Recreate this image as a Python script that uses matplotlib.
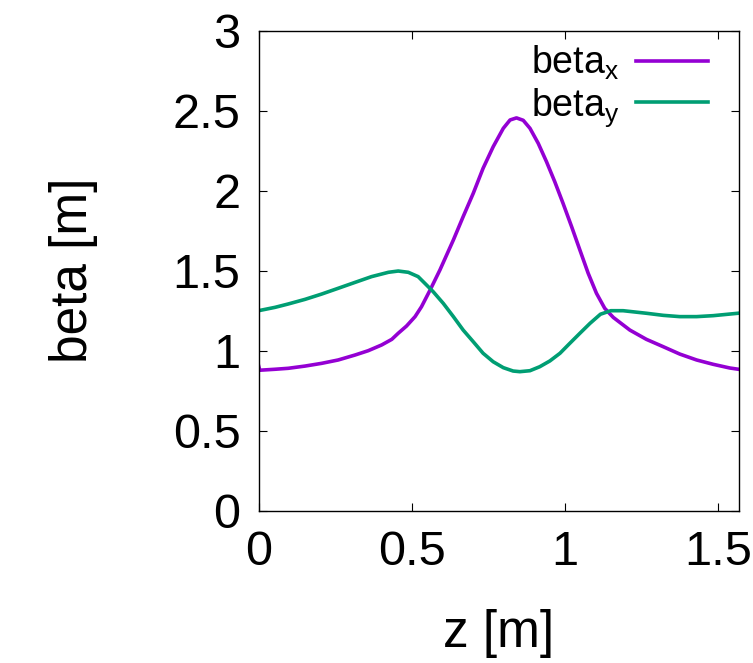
import matplotlib
matplotlib.use("Agg")
import matplotlib.pyplot as plt

plt.rcParams['font.family'] = ['Liberation Sans', 'DejaVu Sans']
plt.rcParams['mathtext.default'] = 'regular'

# beta functions
z_x = [0.0, 0.004, 0.054, 0.097, 0.152, 0.206, 0.26, 0.315, 0.358, 0.402,
       0.435, 0.456, 0.483, 0.511, 0.532, 0.56, 0.592, 0.636, 0.668, 0.701,
       0.733, 0.766, 0.799, 0.821, 0.842, 0.864, 0.886, 0.913, 0.94, 0.967,
       0.994, 1.022, 1.049, 1.076, 1.103, 1.13, 1.158, 1.212, 1.266, 1.321,
       1.375, 1.43, 1.484, 1.538, 1.57]
beta_x = [0.908, 0.878, 0.884, 0.890, 0.904, 0.921, 0.942, 0.973, 1.0, 1.036,
          1.071, 1.109, 1.154, 1.213, 1.275, 1.379, 1.504, 1.692, 1.838, 1.984,
          2.14, 2.275, 2.39, 2.442, 2.455, 2.44, 2.39, 2.296, 2.181, 2.056,
          1.921, 1.775, 1.629, 1.484, 1.359, 1.265, 1.208, 1.129, 1.071, 1.025,
          0.979, 0.942, 0.915, 0.892, 0.883]

z_y = [0.0, 0.054, 0.097, 0.152, 0.206, 0.26, 0.315, 0.369, 0.424, 0.456,
       0.489, 0.521, 0.543, 0.57, 0.603, 0.636, 0.668, 0.701, 0.733, 0.766,
       0.799, 0.831, 0.853, 0.886, 0.918, 0.951, 0.984, 1.016, 1.049, 1.082,
       1.116, 1.15, 1.19, 1.266, 1.321, 1.375, 1.43, 1.484, 1.538, 1.57]
beta_y = [1.25, 1.271, 1.292, 1.321, 1.354, 1.39, 1.427, 1.463, 1.49, 1.498,
          1.49, 1.463, 1.421, 1.369, 1.296, 1.213, 1.129, 1.056, 0.984, 0.931,
          0.894, 0.873, 0.869, 0.875, 0.9, 0.936, 0.984, 1.046, 1.109, 1.171,
          1.228, 1.25, 1.25, 1.234, 1.221, 1.213, 1.213, 1.219, 1.229, 1.235]

xticks = [0, 0.5, 1, 1.5]
xtick_labels = ['0', '0.5', '1', '1.5']
yticks = [0, 0.5, 1, 1.5, 2, 2.5, 3]
ytick_labels = ['0', '0.5', '1', '1.5', '2', '2.5', '3']

fig = plt.figure(figsize=(7.53, 6.63), dpi=100)
ax = fig.add_axes([0.3433, 0.2297, 0.638, 0.724])

ax.plot(z_x, beta_x, color='#9400d3', lw=2.6, label='beta$_x$')
ax.plot(z_y, beta_y, color='#009e73', lw=2.6, label='beta$_y$')

ax.set_xlim(0, 1.568)
ax.set_ylim(0, 3)
ax.set_xticks(xticks)
ax.set_xticklabels(xtick_labels)
ax.set_yticks(yticks)
ax.set_yticklabels(ytick_labels)
ax.tick_params(direction='in', top=True, right=True, length=5.5, width=0.8,
               labelsize=35)
ax.tick_params(axis='x', pad=14)
ax.tick_params(axis='y', pad=13)
for s in ax.spines.values():
    s.set_linewidth(1.0)

ax.set_xlabel('z [m]', fontsize=37)
ax.set_ylabel('beta [m]', fontsize=37)
ax.xaxis.set_label_coords(0.5, -0.205)
ax.yaxis.set_label_coords(-0.335, 0.5)

ax.legend(loc='upper right', bbox_to_anchor=(0.944, 0.98), frameon=False,
          markerfirst=False, fontsize=27, handlelength=1.92,
          handletextpad=0.45, labelspacing=0.1, borderaxespad=0.0,
          borderpad=0.1)

fig.savefig('out.png', dpi=100)
